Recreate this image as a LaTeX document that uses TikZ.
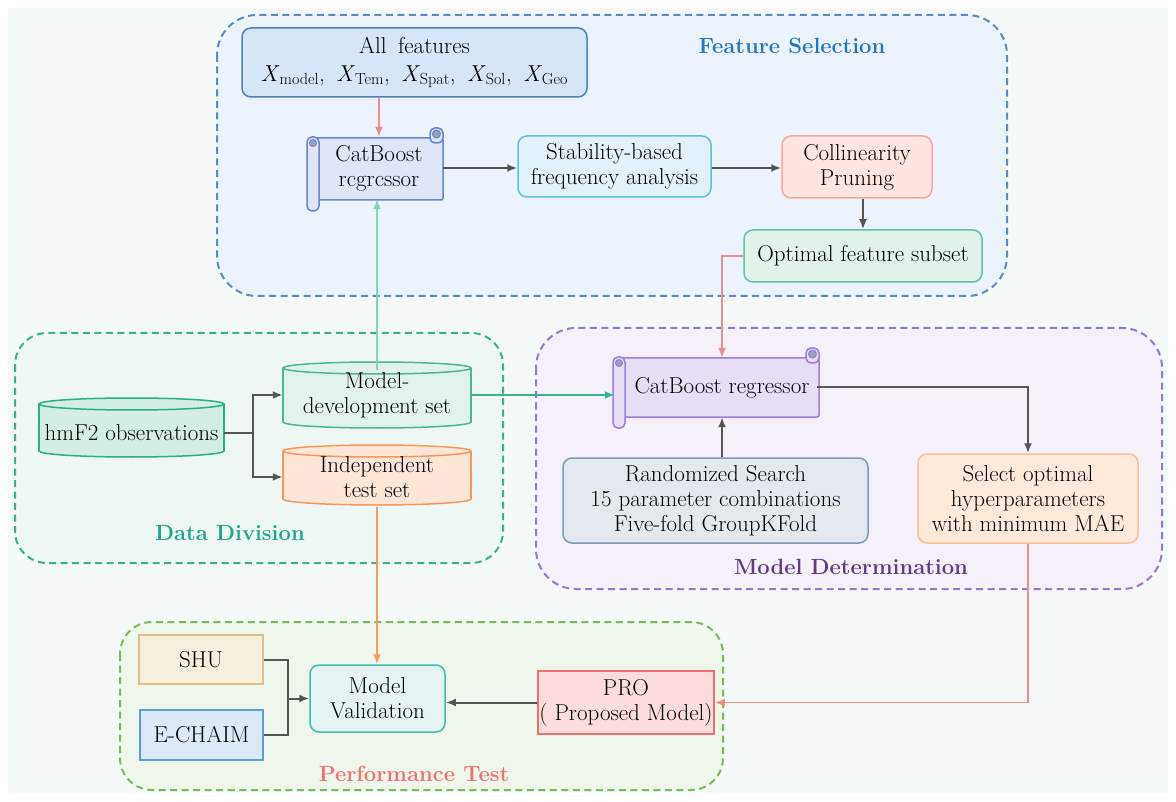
\documentclass[tikz,border=0pt]{standalone}
\usetikzlibrary{arrows.meta,calc}
\definecolor{bgc}{HTML}{F5F9F8}
\definecolor{fsf}{HTML}{ECF3FC}\definecolor{fsb}{HTML}{5B8BC7}
\definecolor{ddf}{HTML}{EEF7F3}\definecolor{ddb}{HTML}{3CAF8C}
\definecolor{mdf}{HTML}{F4F1FB}\definecolor{mdb}{HTML}{9479CF}
\definecolor{ptf}{HTML}{EFF6EB}\definecolor{ptb}{HTML}{7DB95C}
\definecolor{allff}{HTML}{D6E6F7}\definecolor{allfb}{HTML}{4F7FBF}
\definecolor{cbaf}{HTML}{DEE6F8}\definecolor{cbab}{HTML}{6A84CC}
\definecolor{stabf}{HTML}{E2F2FA}\definecolor{stabb}{HTML}{62BEDA}
\definecolor{collf}{HTML}{FFE5E1}\definecolor{collb}{HTML}{F5A89B}
\definecolor{optf}{HTML}{E0F2EA}\definecolor{optb}{HTML}{62C39D}
\definecolor{hmff}{HTML}{D4EEE3}\definecolor{hmfb}{HTML}{2AAE84}
\definecolor{mdevf}{HTML}{E2F3EE}\definecolor{mdevb}{HTML}{4CB690}
\definecolor{itestf}{HTML}{FDE6D8}\definecolor{itestb}{HTML}{F7975A}
\definecolor{cbbf}{HTML}{E8DFF7}\definecolor{cbbb}{HTML}{9C7EDB}
\definecolor{randf}{HTML}{E3E9EF}\definecolor{randb}{HTML}{7F9CB2}
\definecolor{self}{HTML}{FFE9DB}\definecolor{selb}{HTML}{F9BE92}
\definecolor{shuf}{HTML}{F6EFDD}\definecolor{shub}{HTML}{D9C28D}
\definecolor{echf}{HTML}{DCEAF8}\definecolor{echb}{HTML}{5C9DD9}
\definecolor{mvf}{HTML}{E3F4F2}\definecolor{mvb}{HTML}{40BDB0}
\definecolor{prof}{HTML}{FDDCDD}\definecolor{prob}{HTML}{EE6F70}
\definecolor{garrow}{HTML}{555555}
\definecolor{pinkl}{HTML}{F28B8B}
\definecolor{lgreen}{HTML}{82D5B6}
\definecolor{mgreen}{HTML}{3DB38C}
\definecolor{orangel}{HTML}{F99B5B}
\definecolor{curl}{HTML}{9AA2B4}
\definecolor{fst}{HTML}{1E79C3}\definecolor{ddt}{HTML}{1BA78A}
\definecolor{mdt}{HTML}{5E3B86}\definecolor{ptt}{HTML}{F07173}
\definecolor{txt}{HTML}{000000}

\newcommand{\scrollshape}[6]{%
 \filldraw[fill=#5,draw=#6,line width=1.5pt,rounded corners=2pt] (#1,#2) rectangle (#3,#4);
 \filldraw[fill=#5,draw=#6,line width=1.5pt,rounded corners=5pt] (#3-13,#2-10) rectangle (#3,#2+5);
 \filldraw[fill=curl,draw=#6,line width=1pt] (#3-6.5,#2-4) circle[radius=4pt];
 \filldraw[fill=#5,draw=#6,line width=1.5pt,rounded corners=5pt] (#1-3,#2-1) rectangle (#1+9,#4+11);
 \filldraw[fill=curl,draw=#6,line width=1pt] (#1+3,#2+5) circle[radius=3.5pt];
}
\newcommand{\cylshape}[6]{% cx ytop ybot halfwidth fill draw
 \filldraw[fill=#5,draw=#6,line width=1.5pt] (#1,#3-6) ellipse [x radius=#4, y radius=6];
 \fill[#5] (#1-#4,#2+6) rectangle (#1+#4,#3-6);
 \draw[#6,line width=1.5pt] (#1-#4,#2+6) -- (#1-#4,#3-6) (#1+#4,#2+6) -- (#1+#4,#3-6);
 \filldraw[fill=#5,draw=#6,line width=1.5pt] (#1,#2+6) ellipse [x radius=#4, y radius=6];
}

\begin{document}
\begin{tikzpicture}[x=1pt,y=-1pt,
  font=\fontsize{23}{25}\selectfont,
  box/.style={rounded corners=9pt, line width=1.5pt, align=center, inner sep=0pt, text=txt},
  sqbox/.style={line width=1.5pt, align=center, inner sep=0pt, text=txt},
  txtonly/.style={align=center, inner sep=0pt, text=txt},
  region/.style={dash pattern=on 7pt off 4.5pt, line width=2pt},
  title/.style={font=\fontsize{22}{26}\selectfont\bfseries, inner sep=0pt},
  gar/.style={draw=garrow, line width=2pt, -{Latex[length=10pt,width=8pt]}},
  gline/.style={draw=garrow, line width=2pt},
  car/.style={line width=1.8pt, -{Latex[length=10pt,width=8pt]}}
]
\useasboundingbox (0,0) rectangle (1176,802);
\fill[white] (0,0) rectangle (1176,802);
\fill[bgc] (8,8) rectangle (1168,793);

% regions
\draw[region, draw=fsb, fill=fsf, rounded corners=40pt] (217,15) rectangle (1007,296);
\draw[region, draw=ddb, fill=ddf, rounded corners=32pt] (15,333) rectangle (503,563);
\draw[region, draw=mdb, fill=mdf, rounded corners=40pt] (536,328) rectangle (1162,589);
\draw[region, draw=ptb, fill=ptf, rounded corners=32pt] (120,622) rectangle (723,790);

\node[title, text=fst] (fstitle) at (792,46) {Feature Selection};
\node[title, text=ddt] (ddtitle) at (230,533) {Data Division};
\node[title, text=mdt] (mdtitle) at (851,567) {Model Determination};
\node[title, text=ptt] (pttitle) at (414,774) {Performance Test};

% Feature selection
\node[box, fill=allff, draw=allfb, minimum width=345pt, minimum height=69pt] (allf) at (414.5,62.5)
  {All\hspace{0.5em}features\\[3pt]
   \textit{X}\textsubscript{model},\hspace{0.5em}\textit{X}\textsubscript{Tem},\hspace{0.5em}\textit{X}\textsubscript{Spat},\hspace{0.5em}\textit{X}\textsubscript{Sol},\hspace{0.5em}\textit{X}\textsubscript{Geo}};
\scrollshape{310}{138}{443}{200}{cbaf}{cbab}
\node[txtonly, minimum width=128pt, minimum height=62pt] (cba) at (379,168) {CatBoost\\rcgrcssor};
\node[box, fill=stabf, draw=stabb, minimum width=193pt, minimum height=61pt] (stab) at (614.5,166.5) {Stability-based\\frequency analysis};
\node[box, fill=collf, draw=collb, minimum width=150pt, minimum height=62pt] (coll) at (857,167) {Collinearity\\Pruning};
\node[box, fill=optf, draw=optb, minimum width=238pt, minimum height=52pt] (opt) at (863,256) {Optimal feature subset};

% Data division
\cylshape{131.5}{398}{457}{92.5}{hmff}{hmfb}
\node[txtonly, minimum width=185pt, minimum height=40pt] (hmf) at (131.5,433) {hmF2 observations};
\cylshape{377}{362}{428}{94}{mdevf}{mdevb}
\node[txtonly, minimum width=188pt, minimum height=50pt] (mdev) at (377,395) {Model-\\development set};
\cylshape{377}{445}{505}{94}{itestf}{itestb}
\node[txtonly, minimum width=188pt, minimum height=60pt] (itest) at (377,477) {Independent\\test set};

% Model determination
\scrollshape{616}{358}{819}{417}{cbbf}{cbbb}
\node[txtonly, minimum width=190pt, minimum height=59pt] (cbb) at (722,387.5) {CatBoost regressor};
\node[box, fill=randf, draw=randb, minimum width=305pt, minimum height=85pt] (rand) at (715.5,500.5)
  {Randomized Search\\15 parameter combinations\\Five-fold GroupKFold};
\node[box, fill=self, draw=selb, minimum width=220pt, minimum height=89pt] (sel) at (1028,498.5)
  {Select optimal\\hyperparameters\\with minimum MAE};

% Performance test
\node[sqbox, fill=shuf, draw=shub, minimum width=124pt, minimum height=49pt] (shu) at (201,659.5) {SHU};
\node[sqbox, fill=echf, draw=echb, minimum width=123pt, minimum height=50pt] (ech) at (201.5,735) {E-CHAIM};
\node[box, fill=mvf, draw=mvb, minimum width=135pt, minimum height=67pt] (mv) at (377.5,698.5) {Model\\Validation};
\node[sqbox, fill=prof, draw=prob, minimum width=176pt, minimum height=63pt] (pro) at (626,702.5) {PRO\\( Proposed Model)};

% connectors
\draw[car, draw=pinkl] (cba.north |- allf.south) -- (cba.north);
\draw[gar] (cba.east) -- (cba.east -| stab.west);
\draw[gar] (cba.east -| stab.east) -- (cba.east -| coll.west);
\draw[gar] (coll.south -| opt.north) -- (opt.north);
\draw[car, draw=pinkl] (opt.west) -| (cbb.north);
\draw[car, draw=lgreen] (mdev.north) -- (mdev.north |- cba.south);
\draw[car, draw=mgreen] (mdev.east) -- ($(mdev.east -| cbb.west)+(-12,0)$);

\coordinate (split) at (253,433);
\draw[gline] (hmf.east) -- (split);
\draw[gar] (split) |- (mdev.west);
\draw[gar] (split) |- (itest.west);

\draw[gar] (cbb.south |- rand.north) -- (cbb.south);
\draw[gar] (cbb.east) -| (sel.north);
\draw[car, draw=pinkl] (sel.south) |- (pro.east);

\draw[car, draw=orangel] (itest.south) -- (itest.south |- mv.north);
\coordinate (join) at (288,698.5);
\draw[gline] (shu.east) -| (join);
\draw[gline] (ech.east) -| (join);
\draw[gar] (join) -- (mv.west);
\draw[gar] (pro.west) -- (pro.west -| mv.east);
\end{tikzpicture}
\end{document}
